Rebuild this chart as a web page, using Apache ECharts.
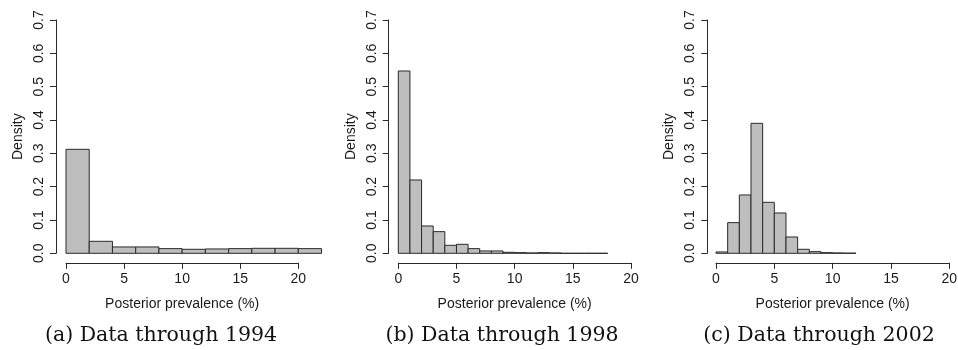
<!DOCTYPE html>
<html>
<head>
<meta charset="utf-8">
<script src="https://cdn.jsdelivr.net/npm/echarts@6/dist/echarts.min.js"></script>
<style>
  html, body { margin: 0; padding: 0; background: #fff; }
  #chart { width: 958px; height: 350px; }
</style>
</head>
<body>
<div id="chart"></div>
<script>
// bin edges (%) and densities
const breaks1994 = [0, 2, 4, 6, 8, 10, 12, 14, 16, 18, 20, 22];
const density1994 = [0.312, 0.036, 0.019, 0.019, 0.014, 0.012, 0.013, 0.014, 0.015, 0.015, 0.014];

const breaks1998 = [0, 1, 2, 3, 4, 5, 6, 7, 8, 9, 10, 11, 12, 13, 14, 15, 16, 17, 18];
const density1998 = [0.547, 0.22, 0.082, 0.065, 0.024, 0.027, 0.014, 0.007, 0.007, 0.003, 0.002, 0.001, 0.002, 0.001, 0, 0, 0, 0];

const breaks2002 = [0, 1, 2, 3, 4, 5, 6, 7, 8, 9, 10, 11, 12];
const density2002 = [0.004, 0.092, 0.175, 0.39, 0.153, 0.121, 0.049, 0.012, 0.005, 0.002, 0.001, 0.0005];

const xMin = 0, xMax = 20, xStep = 5;
const yMin = 0, yMax = 0.7, yStep = 0.1;
const xTitle = 'Posterior prevalence (%)';
const yTitle = 'Density';
const captions = ['(a) Data through 1994', '(b) Data through 1998', '(c) Data through 2002'];

// panel placement (pixels)
const panels = [
  { breaks: breaks1994, density: density1994, left: 66, width: 232.3, yOff: 10, capX: 161 },
  { breaks: breaks1998, density: density1998, left: 398.3, width: 232.7, yOff: 9.6, capX: 502 },
  { breaks: breaks2002, density: density2002, left: 716, width: 233.3, yOff: 8.7, capX: 819 }
];

const sans = "'Liberation Sans', Arial, Helvetica, sans-serif";
const ink = '#1a1a1a';
const lineCol = '#2a2a2a';

function binData(breaks, density) {
  return density.map((d, i) => [breaks[i], breaks[i + 1], d]);
}

function renderBin(params, api) {
  const lo = api.coord([api.value(0), 0]);
  const hi = api.coord([api.value(1), api.value(2)]);
  return {
    type: 'rect',
    shape: { x: lo[0], y: hi[1], width: hi[0] - lo[0], height: lo[1] - hi[1] },
    style: { fill: '#bebebe', stroke: lineCol, lineWidth: 1 }
  };
}

const chart = echarts.init(document.getElementById('chart'));

const option = {
  animation: false,
  backgroundColor: '#fff',
  grid: panels.map(p => ({
    left: p.left, top: 20, width: p.width, height: 233.3,
    containLabel: false, outerBoundsMode: 'none'
  })),
  xAxis: panels.map((p, i) => ({
    type: 'value', gridIndex: i,
    min: xMin, max: xMax, interval: xStep,
    offset: 9.5,
    splitLine: { show: false },
    axisLine: { show: true, onZero: false, lineStyle: { color: lineCol, width: 1 } },
    axisTick: { show: true, length: 6, lineStyle: { color: lineCol } },
    axisLabel: { color: ink, fontFamily: sans, fontSize: 14, margin: 9 },
    name: xTitle, nameLocation: 'middle', nameGap: 34,
    nameTextStyle: { color: ink, fontFamily: sans, fontSize: 14 }
  })),
  yAxis: panels.map((p, i) => ({
    type: 'value', gridIndex: i,
    min: yMin, max: yMax, interval: yStep,
    offset: p.yOff,
    splitLine: { show: false },
    axisLine: { show: true, onZero: false, lineStyle: { color: lineCol, width: 1 } },
    axisTick: { show: true, length: 6, lineStyle: { color: lineCol } },
    axisLabel: {
      color: ink, fontFamily: sans, fontSize: 14, rotate: 90, margin: 10,
      formatter: v => v.toFixed(1)
    },
    name: yTitle, nameLocation: 'middle', nameGap: 31, nameRotate: 90,
    nameTextStyle: { color: ink, fontFamily: sans, fontSize: 14 }
  })),
  series: panels.map((p, i) => ({
    type: 'custom',
    xAxisIndex: i, yAxisIndex: i,
    clip: false,
    encode: { x: [0, 1], y: 2 },
    data: binData(p.breaks, p.density),
    renderItem: renderBin
  })),
  graphic: panels.map((p, i) => ({
    type: 'text',
    x: p.capX, y: 336,
    style: {
      text: captions[i],
      fill: '#111',
      font: "20.5px 'DejaVu Serif', 'Liberation Serif', serif",
      textAlign: 'center', textVerticalAlign: 'middle'
    }
  }))
};

chart.setOption(option);
</script>
</body>
</html>
